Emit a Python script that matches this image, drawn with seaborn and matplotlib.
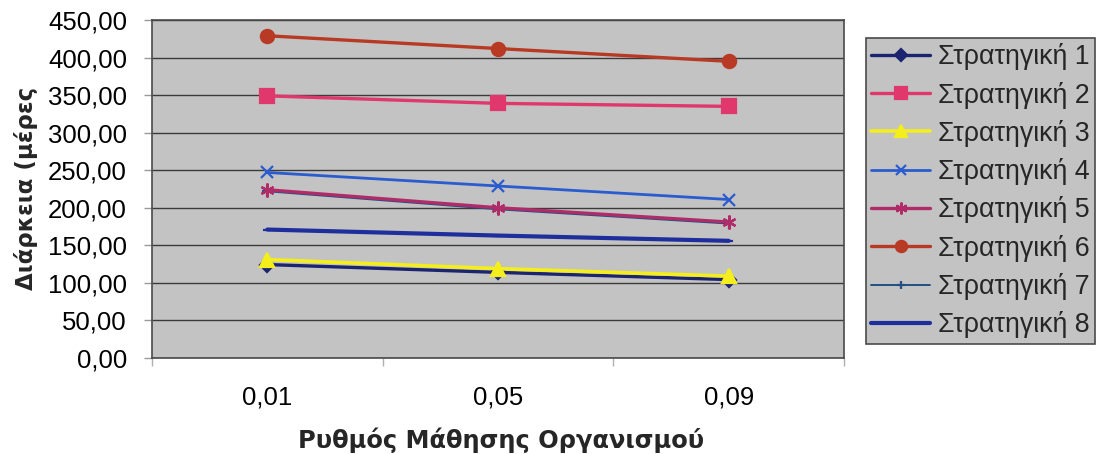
import matplotlib
matplotlib.use("Agg")
import matplotlib.pyplot as plt
from matplotlib.transforms import Bbox, TransformedBbox
from matplotlib.ticker import FixedLocator, FuncFormatter
import numpy as np
import pandas as pd
import seaborn as sns

# Learning-rate categories on the x axis
rates = ["0,01", "0,05", "0,09"]

# Project duration (days) for each strategy
strategy_1 = [124.4, 114.0, 104.4]
strategy_2 = [349.0, 339.0, 335.0]
strategy_3 = [131.0, 119.0, 109.0]
strategy_4 = [247.0, 229.0, 211.0]
strategy_5 = [224.0, 200.0, 181.0]
strategy_6 = [429.0, 412.0, 395.0]
strategy_7 = [222.0, 198.0, 179.0]
strategy_8 = [171.0, 163.0, 156.0]

names = ["Στρατηγική 1", "Στρατηγική 2", "Στρατηγική 3", "Στρατηγική 4",
         "Στρατηγική 5", "Στρατηγική 6", "Στρατηγική 7", "Στρατηγική 8"]
values = [strategy_1, strategy_2, strategy_3, strategy_4,
          strategy_5, strategy_6, strategy_7, strategy_8]

rows = []
for name, vals in zip(names, values):
    for i, (r, v) in enumerate(zip(rates, vals)):
        rows.append({"strategy": name, "pos": i, "rate": r, "days": v})
df = pd.DataFrame(rows)

# Line styling per strategy: colour, marker, line width, marker size, z-order
styles = {
    "Στρατηγική 1": dict(color="#1c2470", marker="D", lw=2.4, ms=7, z=3),
    "Στρατηγική 2": dict(color="#e0386c", marker="s", lw=2.4, ms=9.5, z=3),
    "Στρατηγική 3": dict(color="#f4ee1c", marker="^", lw=2.6, ms=10.5, z=4),
    "Στρατηγική 4": dict(color="#2b5ccf", marker="x", lw=2.0, ms=9, z=3),
    "Στρατηγική 5": dict(color="#b02c68", marker=(6, 2, 0), lw=2.4, ms=10, z=4),
    "Στρατηγική 6": dict(color="#b83a24", marker="o", lw=2.4, ms=9.5, z=3),
    "Στρατηγική 7": dict(color="#234f84", marker="+", lw=1.4, ms=7, z=3),
    "Στρατηγική 8": dict(color="#1e2e9c", marker="_", lw=3.0, ms=6, z=3),
}

sns.set_style("white")
plt.rcParams["font.family"] = ["Liberation Sans", "DejaVu Sans"]

fig = plt.figure(figsize=(11.04, 4.54), dpi=100)
ax = fig.add_axes([152 / 1104, 1 - 358 / 454, (844 - 152) / 1104, (358 - 20) / 454])
ax.set_facecolor("#c3c3c3")

for name in names:
    st = styles[name]
    sub = df[df["strategy"] == name]
    sns.lineplot(data=sub, x="pos", y="days", ax=ax, color=st["color"],
                 marker=st["marker"], markersize=st["ms"], linewidth=st["lw"],
                 markeredgecolor=st["color"], markeredgewidth=1.6,
                 label=name, zorder=st["z"], sort=False, legend=False)

# Axis limits and grid
ax.set_ylim(0, 450)
ax.set_xlim(-0.5, len(rates) - 0.5)
ax.set_yticks(np.arange(0, 451, 50))
ax.yaxis.set_major_formatter(FuncFormatter(lambda v, p: f"{v:.2f}".replace(".", ",")))
ax.set_xticks(range(len(rates)))
ax.set_xticklabels(rates)
ax.xaxis.set_minor_locator(FixedLocator(np.arange(-0.5, len(rates), 1.0)))
ax.grid(axis="y", color="#3a3a3a", linewidth=1.0)
ax.grid(axis="x", visible=False)
ax.set_axisbelow(True)

for sp in ax.spines.values():
    sp.set_color("#4a4a4a")
    sp.set_linewidth(1.2)

ax.tick_params(axis="y", which="major", direction="out", length=6, width=1,
               color="#9a9a9a", pad=12, labelsize=18.5, labelcolor="black", left=True)
ax.tick_params(axis="x", which="major", length=0, pad=20, labelsize=18.5,
               labelcolor="black")
ax.tick_params(axis="x", which="minor", direction="out", length=6, width=1,
               color="#b0b0b0", bottom=True)

ax.set_xlabel("")
ax.set_ylabel("")

# Axis titles
fig.text(501 / 1104, 1 - 440 / 454, "Ρυθμός Μάθησης Οργανισμού",
         ha="center", va="center", fontsize=17.4, fontweight="bold",
         family=["DejaVu Sans"])
ylab = fig.text(33 / 1104, 1 - 290 / 454, "Διάρκεια (μέρες)", rotation=90,
                rotation_mode="anchor", ha="left", va="baseline",
                fontsize=16.5, fontweight="bold", family=["DejaVu Sans"])
ylab.set_clip_box(TransformedBbox(Bbox([[0, 0], [0.12, 1 - 88 / 454]]), fig.transFigure))
ylab.set_clip_on(True)

# Legend box on the right
handles, labels = ax.get_legend_handles_labels()
leg = fig.legend(handles, labels, loc="upper left",
                 bbox_to_anchor=(866 / 1104, 1 - 38 / 454),
                 bbox_transform=fig.transFigure, frameon=True, fancybox=False,
                 facecolor="#c3c3c3", edgecolor="#4a4a4a", framealpha=1,
                 fontsize=19.3, handlelength=2.2, handletextpad=0.3,
                 labelspacing=0.42, borderpad=0.2, borderaxespad=0,
                 markerscale=0.85)
leg.get_frame().set_linewidth(1.2)

fig.savefig("out.png", dpi=100, facecolor="white")
